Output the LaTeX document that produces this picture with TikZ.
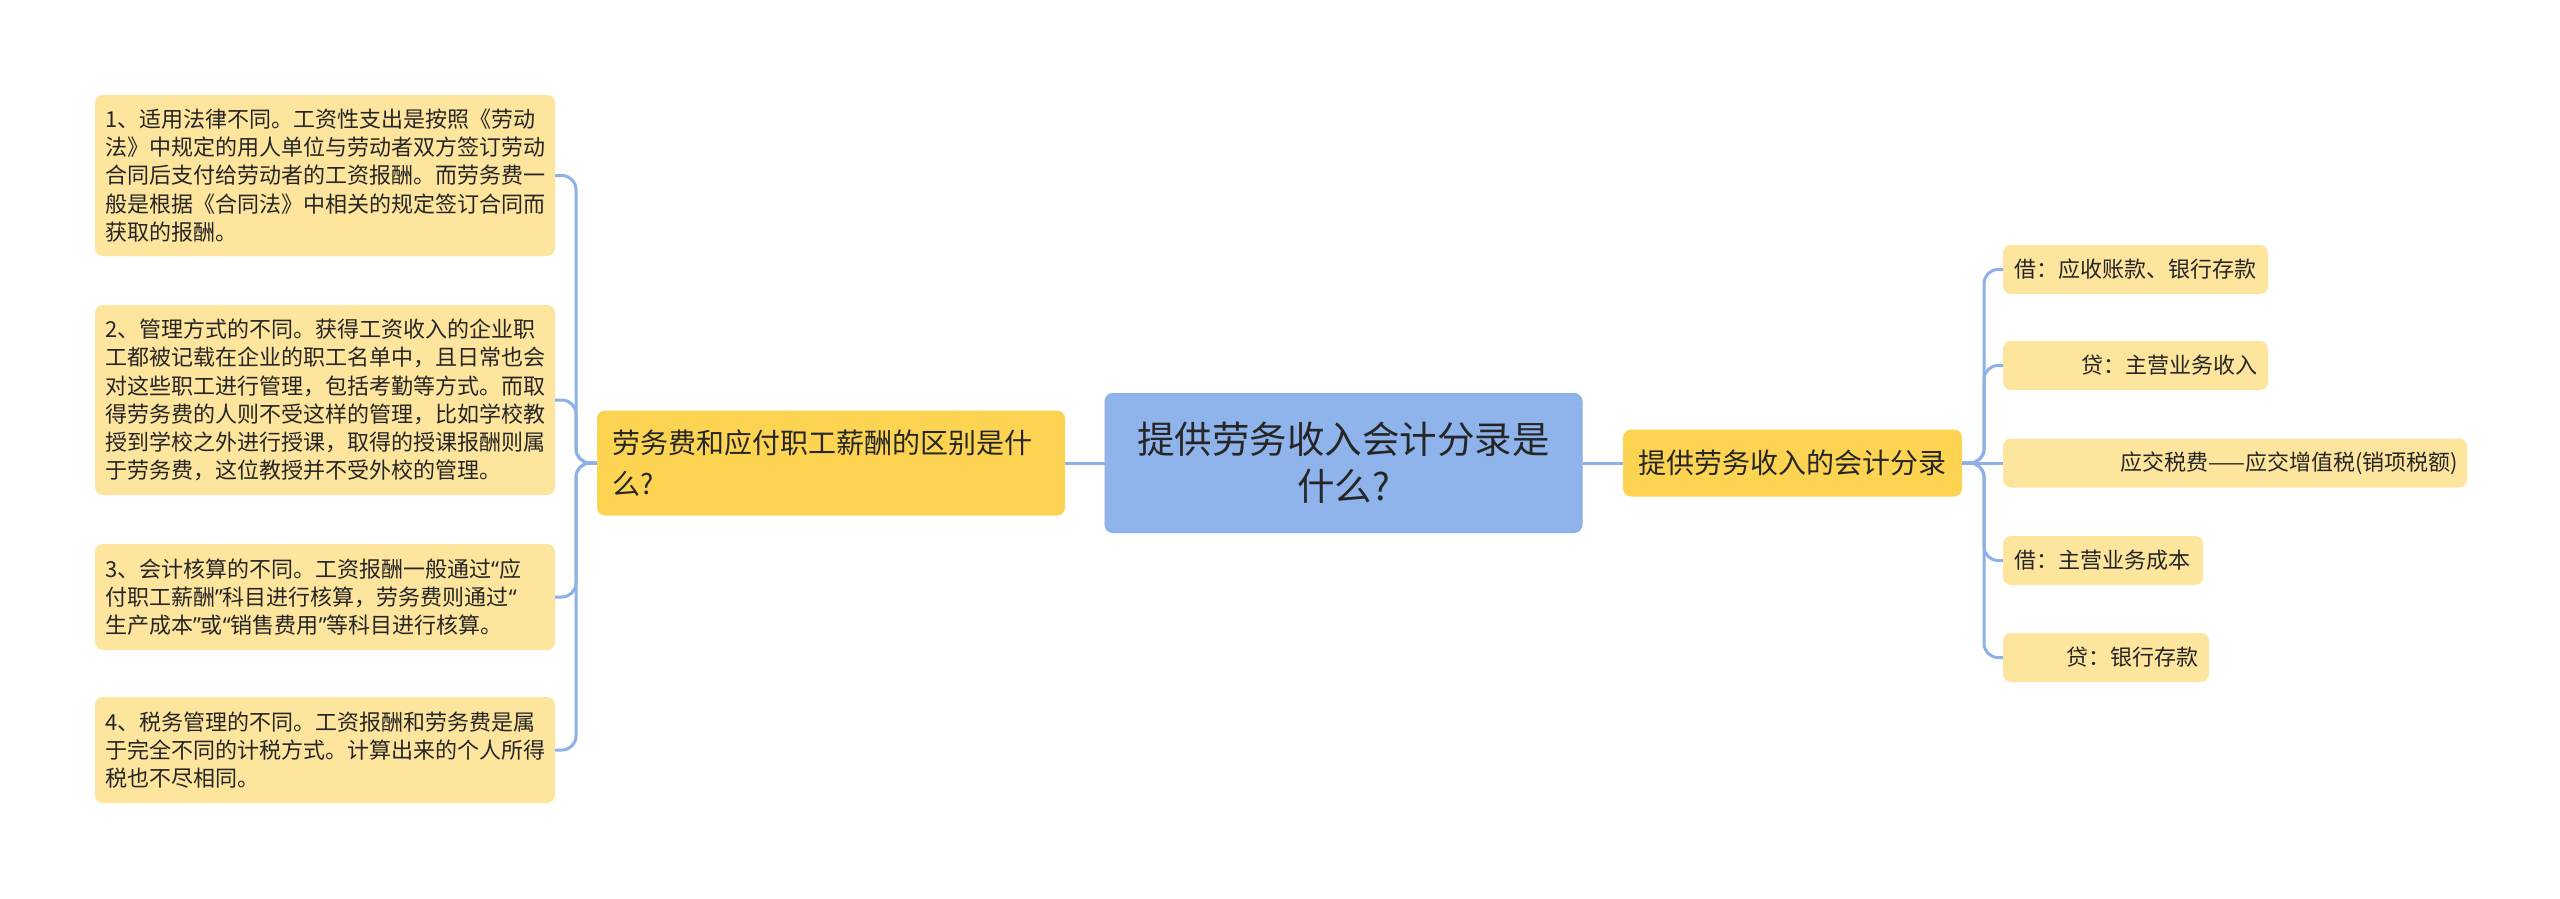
\documentclass[tikz,border=0pt]{standalone}
\usepackage{fontspec}
\newfontfamily\cjk{Noto Sans CJK SC}
\newfontfamily\lat{Noto Sans}
\definecolor{conn}{HTML}{8DB0E8}
\definecolor{cbox}{HTML}{8FB4EC}
\definecolor{cborder}{HTML}{88ADE6}
\definecolor{mbox}{HTML}{FDD352}
\definecolor{lbox}{HTML}{FEE59D}
\definecolor{txt}{HTML}{262626}
\tikzset{
  leaf/.style={fill=lbox, rounded corners=8pt, inner sep=0pt, text=txt,
    font=\cjk\fontsize{22pt}{28.3pt}\selectfont},
  midbox/.style={fill=mbox, rounded corners=8pt, inner sep=0pt, text=txt,
    font=\cjk\fontsize{28pt}{41pt}\selectfont},
  centerbox/.style={fill=cbox, draw=cborder, line width=1pt, rounded corners=8pt, inner sep=0pt, text=txt,
    font=\cjk\fontsize{37.5pt}{47pt}\selectfont},
  connector/.style={draw=conn, line width=3pt, rounded corners=14pt},
}
\newcommand{\myLq}{{\lat “}}
\newcommand{\myRq}{{\lat ”}}
\begin{document}
\begin{tikzpicture}[x=1pt,y=-1pt]
\useasboundingbox[fill=white] (0,0) rectangle (2560,899);

% center
\node[centerbox, minimum width=477pt, minimum height=139pt, text width=440pt, align=center] (c) at (1343.5,463)
  {提供劳务收入会计分录是\\什么?};

% left branch
\node[midbox, minimum width=468pt, minimum height=105pt, text width=438pt, align=left] (lm) at (831,463)
  {劳务费和应付职工薪酬的区别是什\\么?};

\node[leaf, minimum width=460pt, minimum height=161pt, text width=440pt, align=left] (a1) at (325,175.5)
  {1、适用法律不同。工资性支出是按照《劳动\\法》中规定的用人单位与劳动者双方签订劳动\\合同后支付给劳动者的工资报酬。而劳务费一\\般是根据《合同法》中相关的规定签订合同而\\获取的报酬。};
\node[leaf, minimum width=460pt, minimum height=190pt, text width=440pt, align=left] (a2) at (325,400)
  {2、管理方式的不同。获得工资收入的企业职\\工都被记载在企业的职工名单中，且日常也会\\对这些职工进行管理，包括考勤等方式。而取\\得劳务费的人则不受这样的管理，比如学校教\\授到学校之外进行授课，取得的授课报酬则属\\于劳务费，这位教授并不受外校的管理。};
\node[leaf, minimum width=460pt, minimum height=106pt, text width=440pt, align=left] (a3) at (325,597)
  {3、会计核算的不同。工资报酬一般通过\myLq 应\\付职工薪酬\myRq 科目进行核算，劳务费则通过\myLq\\生产成本\myRq 或\myLq 销售费用\myRq 等科目进行核算。};
\node[leaf, minimum width=460pt, minimum height=106pt, text width=440pt, align=left] (a4) at (325,750)
  {4、税务管理的不同。工资报酬和劳务费是属\\于完全不同的计税方式。计算出来的个人所得\\税也不尽相同。};

% right branch
\node[midbox, minimum width=339pt, minimum height=67pt, text width=309pt, align=left] (rm) at (1792.5,463)
  {提供劳务收入的会计分录};

\node[leaf, minimum width=265pt, minimum height=49pt, text width=243pt, align=left] (b1) at (2135.5,269.5)
  {借：应收账款、银行存款};
\node[leaf, minimum width=265pt, minimum height=49pt, text width=243pt, align=right] (b2) at (2135.5,365.5)
  {贷：主营业务收入};
\node[leaf, minimum width=464pt, minimum height=49pt, text width=446pt, align=right] (b3) at (2235,463)
  {应交税费——应交增值税(销项税额)};
\node[leaf, minimum width=200pt, minimum height=49pt, text width=178pt, align=left] (b4) at (2103,560.5)
  {借：主营业务成本};
\node[leaf, minimum width=206pt, minimum height=49pt, text width=184pt, align=right] (b5) at (2106,657.5)
  {贷：银行存款};

% connectors
\coordinate (lt) at (576,0);
\coordinate (rt) at (1984,0);
\draw[connector] (c.west) -- (lm.east);
\draw[connector] (c.east) -- (rm.west);
\foreach \n in {a1,a2,a3,a4}
  \draw[connector] (lm.west) -- (lm.west -| lt) |- (\n.east);
\foreach \n in {b1,b2,b4,b5}
  \draw[connector] (rm.east) -- (rm.east -| rt) |- (\n.west);
\draw[connector] (rm.east) -- (b3.west);
\end{tikzpicture}
\end{document}
